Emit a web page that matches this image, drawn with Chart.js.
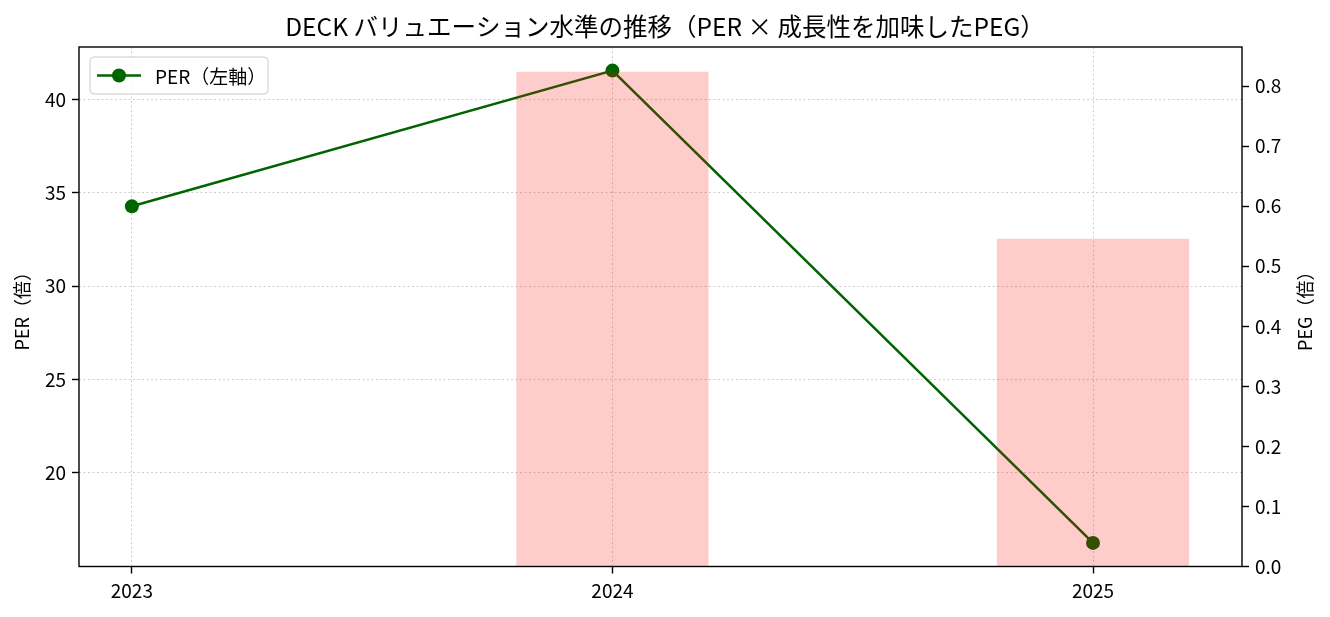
<!DOCTYPE html>
<html>
<head>
<meta charset="utf-8">
<script src="https://cdn.jsdelivr.net/npm/chart.js@4/dist/chart.umd.min.js"></script>
<style>
html,body{margin:0;padding:0;background:#fff;}
#wrap{width:1330px;height:617px;position:relative;}
</style>
</head>
<body>
<div id="wrap"><canvas id="c"></canvas></div>
<script>
// データ
var years=['2023','2024','2025'];
var xPos=[0,1,2];
var per=[34.28,41.56,16.23];
var peg=[null,0.824,0.546];
var perTicks=[20,25,30,35,40];
var pegTicks=[0,0.1,0.2,0.3,0.4,0.5,0.6,0.7,0.8];

var FONT="'Noto Sans CJK JP','Noto Sans',sans-serif";
Chart.defaults.font.family=FONT;
Chart.defaults.color='#000';

// matplotlib風の5%マージン
var perLo=Math.min.apply(null,per), perHi=Math.max.apply(null,per), perR=perHi-perLo;
var pegHi=Math.max.apply(null,peg.filter(function(v){return v!=null;}));

var gridOpt={color:'#cfcfcf',lineWidth:1,offset:false,tickColor:'#000',tickWidth:1.4,tickLength:7,tickBorderDash:[]};
var borderOpt={display:false,dash:[2,2.5]};

var extras={
  id:'extras',
  afterDraw:function(ch){
    var c=ch.ctx, a=ch.chartArea;
    // 枠
    c.save();
    c.strokeStyle='#000'; c.lineWidth=1.4;
    c.strokeRect(a.left,a.top,a.right-a.left,a.bottom-a.top);
    // 右軸タイトル（下から上へ）
    c.font='18px '+FONT; c.fillStyle='#000'; c.textAlign='center'; c.textBaseline='middle';
    c.translate(1305,(a.top+a.bottom)/2); c.rotate(-Math.PI/2);
    c.fillText('PEG（倍）',0,0);
    c.restore();
    // 凡例
    var ds=ch.data.datasets[1];
    var bx=a.left+11, by=a.top+10, bw=178, bh=37, r=4;
    c.save();
    c.beginPath();
    c.moveTo(bx+r,by); c.lineTo(bx+bw-r,by); c.quadraticCurveTo(bx+bw,by,bx+bw,by+r);
    c.lineTo(bx+bw,by+bh-r); c.quadraticCurveTo(bx+bw,by+bh,bx+bw-r,by+bh);
    c.lineTo(bx+r,by+bh); c.quadraticCurveTo(bx,by+bh,bx,by+bh-r);
    c.lineTo(bx,by+r); c.quadraticCurveTo(bx,by,bx+r,by); c.closePath();
    c.fillStyle='rgba(255,255,255,0.8)'; c.fill();
    c.strokeStyle='#cccccc'; c.lineWidth=1; c.stroke();
    var ly=by+bh/2;
    c.strokeStyle=ds.borderColor; c.lineWidth=ds.borderWidth;
    c.beginPath(); c.moveTo(bx+7,ly); c.lineTo(bx+51,ly); c.stroke();
    c.fillStyle=ds.pointBackgroundColor;
    c.beginPath(); c.arc(bx+29,ly,ds.pointRadius,0,Math.PI*2); c.fill();
    c.font='19px '+FONT; c.fillStyle='#000'; c.textAlign='left'; c.textBaseline='middle';
    c.fillText(ds.label,bx+65,ly+1);
    c.restore();
  }
};

new Chart(document.getElementById('c'),{
  type:'bar',
  data:{
    datasets:[
      {type:'bar',label:'PEG（右軸）',yAxisID:'y1',order:0,
       data:xPos.map(function(x,i){return {x:x,y:peg[i]};}),
       backgroundColor:'rgba(255,0,0,0.2)',borderWidth:0,
       categoryPercentage:1,barPercentage:0.4},
      {type:'line',label:'PER（左軸）',yAxisID:'y',order:1,
       data:xPos.map(function(x,i){return {x:x,y:per[i]};}),
       borderColor:'#006400',backgroundColor:'#006400',borderWidth:2.6,
       pointRadius:7,pointHoverRadius:7,pointBackgroundColor:'#006400',pointBorderWidth:0,
       tension:0,fill:false}
    ]
  },
  options:{
    responsive:true,maintainAspectRatio:false,animation:false,
    layout:{padding:0},
    plugins:{
      legend:{display:false},
      tooltip:{enabled:false},
      title:{display:true,text:'DECK バリュエーション水準の推移（PER × 成長性を加味したPEG）',
        font:{size:24.5,weight:'normal',lineHeight:1.2},color:'#000',padding:{top:11.5,bottom:6.1}}
    },
    scales:{
      x:{type:'linear',min:-0.11,max:2.31,offset:false,
        grid:gridOpt,border:borderOpt,
        afterBuildTicks:function(s){s.ticks=xPos.map(function(v){return {value:v};});},
        afterFit:function(s){s.height=50.5;},
        ticks:{font:{size:19},padding:6,maxRotation:0,autoSkip:false,callback:function(v){return years[v];}}},
      y:{type:'linear',position:'left',min:perLo-0.05*perR,max:perHi+0.05*perR,
        grid:gridOpt,border:borderOpt,
        afterBuildTicks:function(s){s.ticks=perTicks.map(function(v){return {value:v};});},
        afterFit:function(s){s.width=79;},
        ticks:{font:{size:19},padding:6},
        title:{display:true,text:'PER（倍）',font:{size:18},padding:{top:11,bottom:0}}},
      y1:{type:'linear',position:'right',min:0,max:pegHi*1.05,
        grid:{drawOnChartArea:false,tickColor:'#000',tickWidth:1.4,tickLength:7},border:{display:false},
        afterBuildTicks:function(s){s.ticks=pegTicks.map(function(v){return {value:v};});},
        afterFit:function(s){s.width=88;},
        ticks:{font:{size:19},padding:6,callback:function(v){return v.toFixed(1);}}}
    }
  },
  plugins:[extras]
});
</script>
</body>
</html>
